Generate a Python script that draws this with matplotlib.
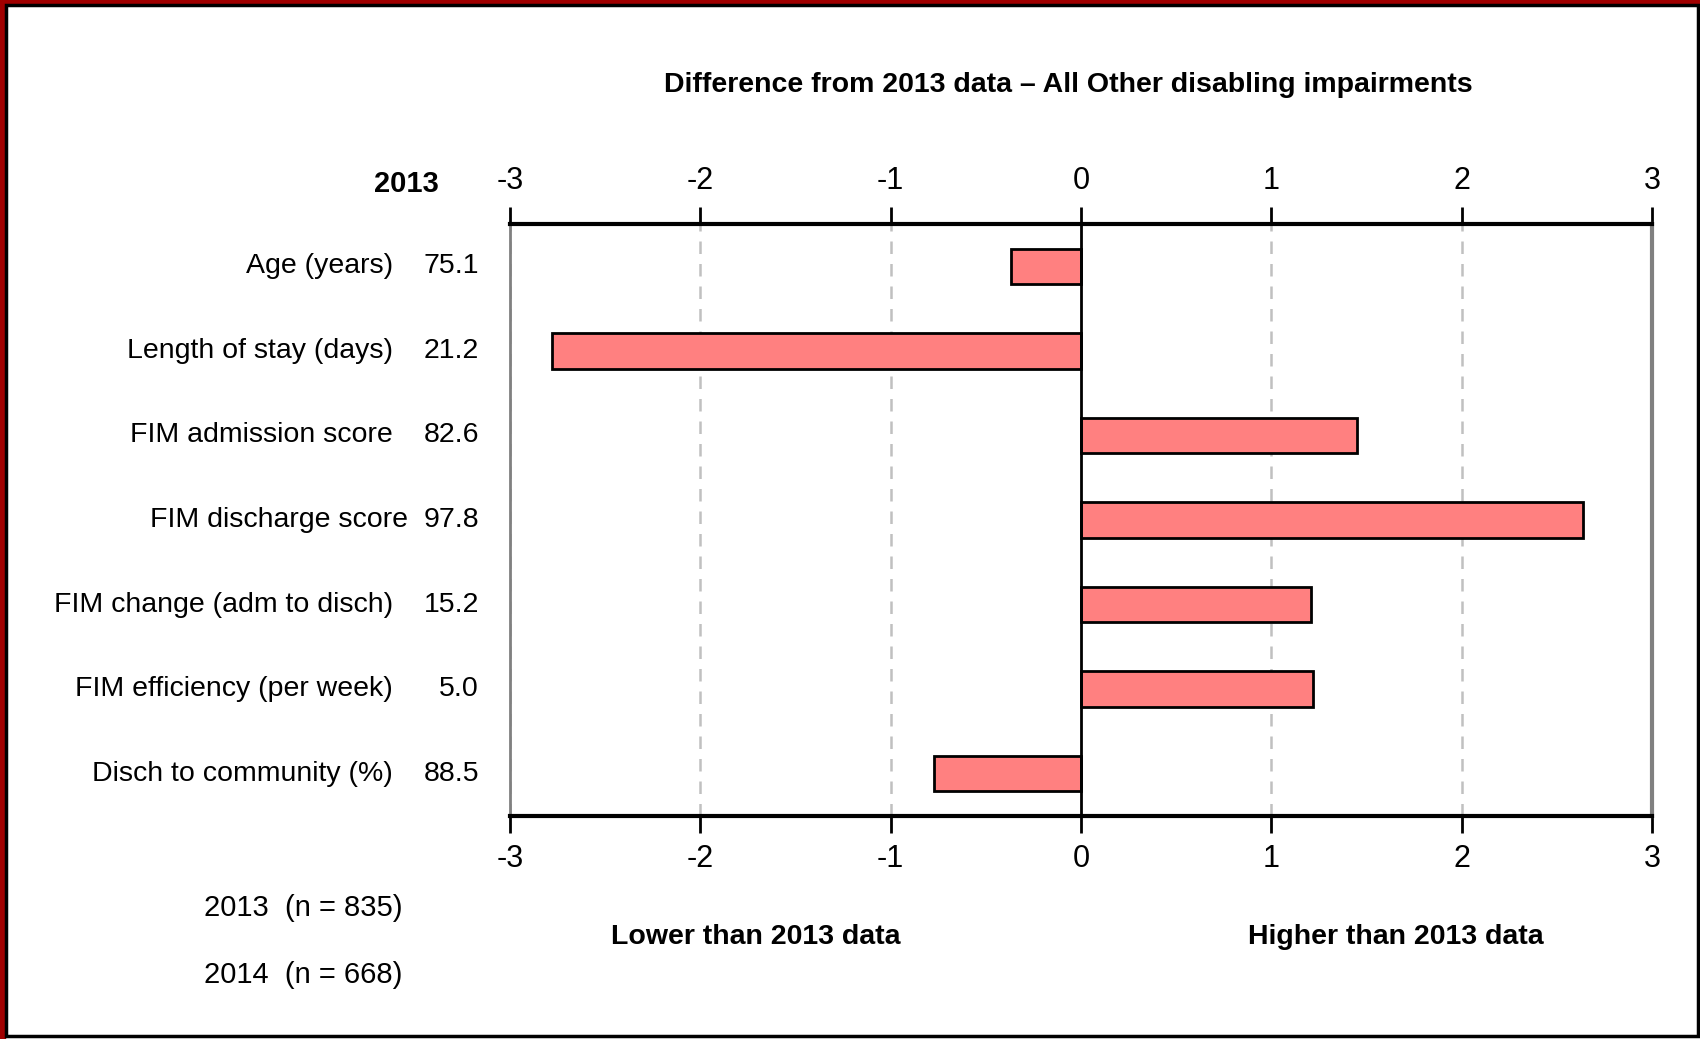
import matplotlib
matplotlib.use("Agg")
import matplotlib.pyplot as plt
from matplotlib import font_manager
from matplotlib.patches import Rectangle

names = {f.name for f in font_manager.fontManager.ttflist}
FONT = "Liberation Sans Narrow" if "Liberation Sans Narrow" in names else "Liberation Sans"
plt.rcParams["font.family"] = [FONT, "DejaVu Sans"]

CATEGORIES = [
    "Age (years)",
    "Length of stay (days)",
    "FIM admission score",
    "FIM discharge score",
    "FIM change (adm to disch)",
    "FIM efficiency (per week)",
    "Disch to community (%)",
]
VALUES_2013 = ["75.1", "21.2", "82.6", "97.8", "15.2", "5.0", "88.5"]
DIFFERENCES = [-0.37, -2.78, 1.45, 2.64, 1.21, 1.22, -0.77]
TICKS = [-3, -2, -1, 0, 1, 2, 3]
N_LABELS = ["2013  (n = 835)", "2014  (n = 668)"]

TITLE = "Difference from 2013 data \u2013 All Other disabling impairments"
BAR_COLOR = "#ff8080"
FS = 20.5

fig = plt.figure(figsize=(17, 10.39), dpi=100)
W, H = 1700, 1039


def fx(px):
    return px / W


def fy(py):
    return 1 - py / H


# frame
fig.patches.append(Rectangle((0, 0), fx(5), 1, transform=fig.transFigure,
                             color="#a00000", zorder=0))
fig.patches.append(Rectangle((0, fy(4)), 1, fy(0) - fy(4), transform=fig.transFigure,
                             color="#a00000", zorder=0))
fig.patches.append(Rectangle((fx(6), fy(1036)), fx(1692), fy(5) - fy(1036),
                             transform=fig.transFigure, fill=False,
                             edgecolor="black", linewidth=2.5, zorder=1))

ax = fig.add_axes([fx(510), fy(816), fx(1652 - 510), fy(224) - fy(816)])
y = list(range(len(CATEGORIES)))
ax.barh(y, DIFFERENCES, height=0.42, color=BAR_COLOR, edgecolor="black",
        linewidth=2, zorder=3)
ax.set_ylim(len(CATEGORIES) - 0.5, -0.5)
ax.set_xlim(-3, 3)
ax.set_yticks([])
ax.set_xticks(TICKS)
ax.set_xticklabels([str(t) for t in TICKS], fontsize=22)
ax.tick_params(axis="x", which="both", top=True, bottom=True,
               labeltop=True, labelbottom=True, direction="out",
               length=12, width=2, pad=8)
for t in TICKS:
    if t != 0:
        ax.axvline(t, color="#c0c0c0", linestyle=(0, (5, 4)), linewidth=1.8, zorder=1)
ax.axvline(0, color="black", linewidth=2, zorder=4)
ax.spines["top"].set_linewidth(3)
ax.spines["bottom"].set_linewidth(3)
ax.spines["left"].set_color("#808080")
ax.spines["left"].set_linewidth(2)
ax.spines["right"].set_color("#808080")
ax.spines["right"].set_linewidth(3)

for i, (cat, val) in enumerate(zip(CATEGORIES, VALUES_2013)):
    # the discharge label sits a little further right in the original
    right = 408 if cat == "FIM discharge score" else 393
    ax.annotate(cat, xy=(fx(right), i), xycoords=("figure fraction", "data"),
                ha="right", va="center", fontsize=FS)
    ax.annotate(val, xy=(fx(479), i), xycoords=("figure fraction", "data"),
                ha="right", va="center", fontsize=FS)

fig.text(fx(1068), fy(85), TITLE, ha="center", va="center", fontsize=FS,
         fontweight="bold")
fig.text(fx(406), fy(184), "2013", ha="center", va="center", fontsize=21,
         fontweight="bold")
fig.text(fx(303), fy(908), N_LABELS[0], ha="center", va="center", fontsize=21)
fig.text(fx(303), fy(975), N_LABELS[1], ha="center", va="center", fontsize=21)
fig.text(fx(756), fy(937), "Lower than 2013 data", ha="center", va="center",
         fontsize=FS, fontweight="bold")
fig.text(fx(1396), fy(937), "Higher than 2013 data", ha="center", va="center",
         fontsize=FS, fontweight="bold")

fig.savefig("out.png", dpi=100)
